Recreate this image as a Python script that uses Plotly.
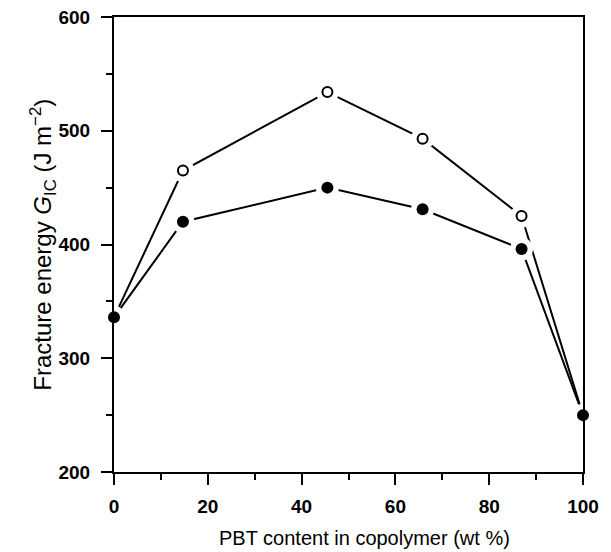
import plotly.graph_objects as go

# Data
pbt = [0, 14.7, 45.5, 65.8, 86.9, 100]
gic_open = [336, 465, 534, 493, 425, 250]
gic_filled = [336, 420, 450, 431, 396, 250]
x_ticks = [0, 20, 40, 60, 80, 100]
y_ticks = [200, 300, 400, 500, 600]
x_title = "PBT content in copolymer (wt %)"
y_title = "Fracture energy <i>G</i><sub>IC</sub> (J m<sup>−2</sup>)"

fig = go.Figure()

# connecting lines
fig.add_trace(go.Scatter(x=pbt, y=gic_open, mode="lines",
                         line=dict(color="black", width=2), cliponaxis=False,
                         showlegend=False, hoverinfo="skip"))
fig.add_trace(go.Scatter(x=pbt, y=gic_filled, mode="lines",
                         line=dict(color="black", width=2), cliponaxis=False,
                         showlegend=False, hoverinfo="skip"))
# white halos to break the lines around markers
fig.add_trace(go.Scatter(x=pbt + pbt[1:-1], y=gic_filled + gic_open[1:-1], mode="markers",
                         marker=dict(color="white", size=23, line=dict(width=0)),
                         cliponaxis=False, showlegend=False, hoverinfo="skip"))
# filled markers
fig.add_trace(go.Scatter(x=pbt, y=gic_filled, mode="markers",
                         marker=dict(color="black", size=12, line=dict(width=0)),
                         cliponaxis=False, showlegend=False))
# open markers
fig.add_trace(go.Scatter(x=pbt[1:-1], y=gic_open[1:-1], mode="markers",
                         marker=dict(color="white", size=10, line=dict(color="black", width=2)),
                         cliponaxis=False, showlegend=False))

fam = "Liberation Sans, Arial, sans-serif"
tickfont = dict(family=fam, size=19, color="black")

fig.update_xaxes(range=[0, 100], tickvals=x_ticks, ticktext=[f"<b>{v}</b>" for v in x_ticks],
                 showgrid=False, zeroline=False, showline=True, linecolor="black", linewidth=2,
                 mirror=True, ticks="outside", ticklen=11, tickwidth=2, tickcolor="black",
                 minor=dict(tickvals=[10, 30, 50, 70, 90], ticks="outside", ticklen=6,
                            tickwidth=2, tickcolor="black"),
                 tickfont=tickfont, ticklabelstandoff=5, automargin=False)
fig.update_yaxes(range=[200, 600], tickvals=y_ticks, ticktext=[f"<b>{v}</b>" for v in y_ticks],
                 showgrid=False, zeroline=False, showline=True, linecolor="black", linewidth=2,
                 mirror=True, ticks="outside", ticklen=11, tickwidth=2, tickcolor="black",
                 minor=dict(tickvals=[250, 350, 450, 550], ticks="outside", ticklen=6,
                            tickwidth=2, tickcolor="black"),
                 tickfont=tickfont, ticklabelstandoff=7, automargin=False)

fig.add_annotation(text=x_title, xref="paper", yref="paper", x=0.534, y=-0.145,
                   xanchor="center", yanchor="middle", showarrow=False,
                   font=dict(family=fam, size=20, color="black"))
fig.add_annotation(text=y_title, xref="paper", yref="paper", x=-0.153, y=0.5,
                   xanchor="center", yanchor="middle", showarrow=False, textangle=-90,
                   font=dict(family=fam, size=24, color="black"))

fig.update_layout(width=611, height=552, margin=dict(l=114, r=28, t=17, b=80),
                  plot_bgcolor="white", paper_bgcolor="white")

fig.write_html("out.html")
